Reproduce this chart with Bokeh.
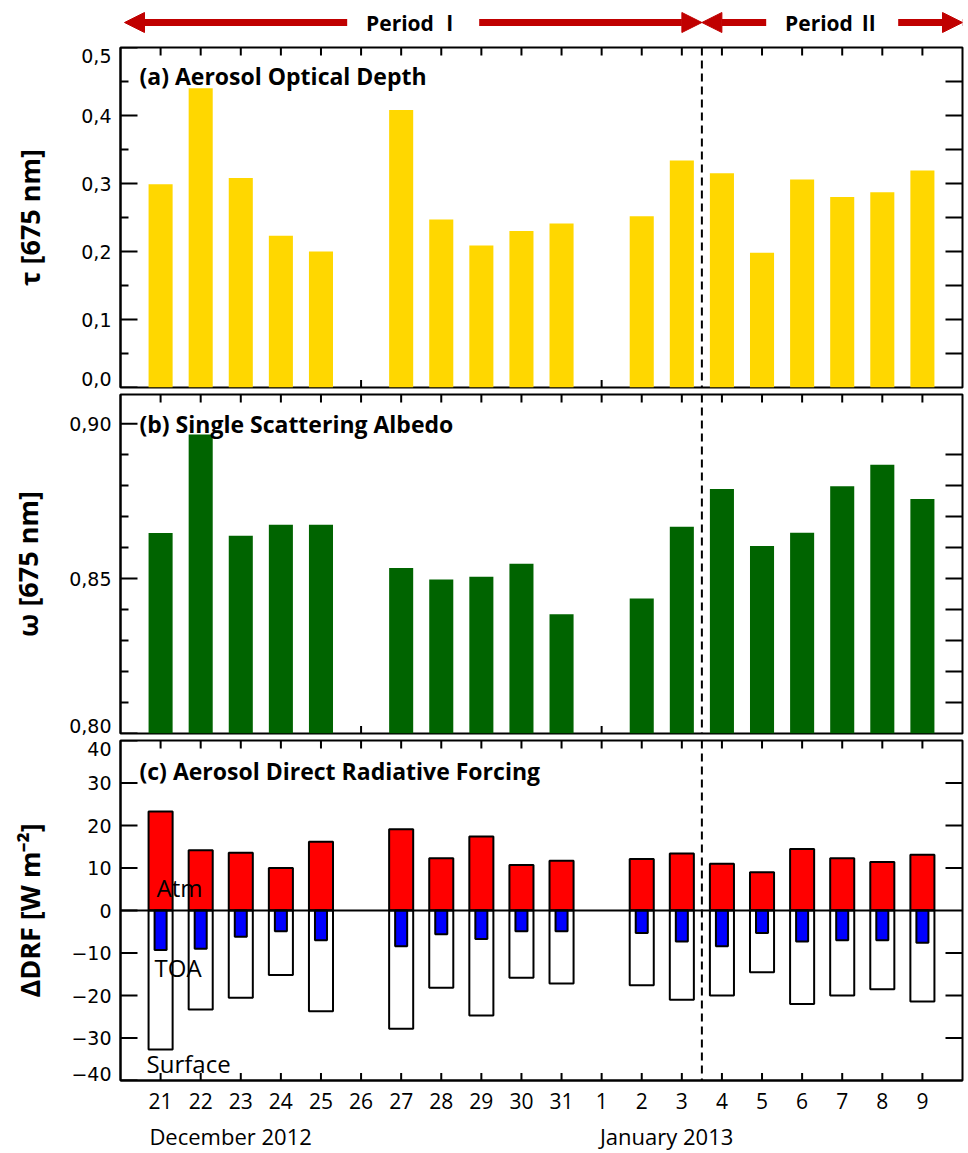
import math

from bokeh.embed import file_html
from bokeh.layouts import column
from bokeh.models import (Arrow, ColumnDataSource, CustomJSTickFormatter, FixedTicker,
                          Label, LinearAxis, NormalHead, Range1d, Span)
from bokeh.plotting import figure
from bokeh.resources import INLINE

# ---- data -------------------------------------------------------------
days = ["21", "22", "23", "24", "25", "26", "27", "28", "29", "30", "31",
        "1", "2", "3", "4", "5", "6", "7", "8", "9"]
months = ["December 2012", "January 2013"]
month_start = [0, 11]           # index of the first day of each month
periods = ["Period \u2160", "Period \u2161"]
period_split = 13.5             # between 3 and 4 January

# aerosol optical depth at 675 nm (None = no retrieval)
aod = [0.299, 0.440, 0.308, 0.223, 0.200, None, 0.408, 0.247, 0.209, 0.230,
       0.241, None, 0.252, 0.334, 0.315, 0.198, 0.306, 0.280, 0.287, 0.319]
# single scattering albedo at 675 nm
ssa = [0.8647, 0.8965, 0.8638, 0.8674, 0.8674, None, 0.8534, 0.8497, 0.8506, 0.8548,
       0.8385, None, 0.8436, 0.8667, 0.8789, 0.8605, 0.8648, 0.8798, 0.8867, 0.8757]
# direct radiative forcing, W m-2
atm = [23.3, 14.2, 13.6, 10.0, 16.2, None, 19.1, 12.3, 17.4, 10.7,
       11.7, None, 12.1, 13.4, 11.0, 9.0, 14.5, 12.3, 11.4, 13.1]
toa = [-9.3, -9.0, -6.2, -4.9, -7.0, None, -8.4, -5.6, -6.7, -4.9,
       -4.9, None, -5.3, -7.3, -8.4, -5.3, -7.3, -7.0, -7.0, -7.6]
surface = [-32.7, -23.3, -20.5, -15.2, -23.7, None, -27.8, -18.2, -24.7, -15.8,
           -17.2, None, -17.6, -21.0, -20.0, -14.5, -22.0, -20.0, -18.5, -21.4]

# ---- layout -----------------------------------------------------------
W = 968
LEFT, RIGHT = 120, 6
X0, X1 = -1, len(days)
PPU = (W - LEFT - RIGHT) / (X1 - X0)
SANS = "Open Sans"
TICK_FONT = "DejaVu Sans"
idx = list(range(len(days)))


def source(**cols):
    keep = [i for i in idx if all(c[i] is not None for c in cols.values())]
    data = {"x": keep}
    for k, c in cols.items():
        data[k] = [c[i] for i in keep]
    return ColumnDataSource(data)


def ticks(p, xs, ys, size, angle=0.0):
    # tick marks as dash markers centred on the frame edge; the frame clips
    # the outer half so only the inward part shows
    p.scatter(x=xs, y=ys, marker="dash", size=size, angle=angle,
              line_color="black", line_width=2)


def panel(height, top, bottom, frame_h, y0, y1, majors, minors, right_ticks, fmt,
          label_shift, ylabel, ylabel_standoff):
    p = figure(width=W, height=height, x_range=Range1d(X0, X1), y_range=Range1d(y0, y1),
               output_backend="svg", toolbar_location=None,
               x_axis_location=None, y_axis_location=None,
               min_border_left=LEFT, min_border_right=RIGHT,
               min_border_top=top, min_border_bottom=bottom)
    p.grid.visible = False
    p.outline_line_color = "black"
    p.outline_line_width = 2

    # tick labels; the end labels are nudged inside the axis range
    ppy = frame_h / (y1 - y0)
    lab = list(majors)
    lab[0] += label_shift[0] / ppy
    lab[-1] -= label_shift[1] / ppy
    left = LinearAxis(ticker=FixedTicker(ticks=lab, minor_ticks=[]),
                      formatter=CustomJSTickFormatter(code=fmt),
                      major_tick_in=0, major_tick_out=0, minor_tick_in=0, minor_tick_out=0,
                      axis_line_width=2,
                      major_label_text_font=TICK_FONT, major_label_text_font_size="19px",
                      major_label_text_color="black", major_label_standoff=9,
                      axis_label=ylabel, axis_label_text_font=SANS,
                      axis_label_text_font_style="bold", axis_label_text_font_size="27px",
                      axis_label_text_color="black", axis_label_standoff=ylabel_standoff)
    p.add_layout(left, "left")

    ticks(p, [X0] * len(majors), majors, 34)
    if minors:
        ticks(p, [X0] * len(minors), minors, 16)
    ticks(p, [X1] * len(right_ticks), right_ticks, 34)
    ticks(p, idx, [y1] * len(idx), 16, math.pi / 2)
    ticks(p, idx, [y0] * len(idx), 15, math.pi / 2)

    p.add_layout(Span(location=period_split, dimension="height", line_color="black",
                      line_width=2, line_dash="8 5"))
    return p


def title(p, text, fh, dy):
    p.add_layout(Label(x=19, y=fh - dy, x_units="screen", y_units="screen", text=text,
                       text_font=SANS, text_font_style="bold",
                       text_font_size="23px", text_baseline="middle", text_color="black"))


# ---- period arrows ----------------------------------------------------
arrows = figure(width=W, height=40, x_range=Range1d(X0, X1), y_range=Range1d(0, 1),
                output_backend="svg", toolbar_location=None,
                x_axis_location=None, y_axis_location=None,
                min_border_left=LEFT, min_border_right=RIGHT,
                min_border_top=0, min_border_bottom=0)
arrows.grid.visible = False
arrows.outline_line_color = None
ARROW_RED = "#C00000"
gap = 66 / PPU
bounds = [(X0 + 4 / PPU, period_split), (period_split, X1)]
for (a, b), name in zip(bounds, periods):
    c = (a + b) / 2
    for s, e in ((c - gap, a), (c + gap, b)):
        arrows.add_layout(Arrow(end=NormalHead(size=20, fill_color=ARROW_RED, line_color=ARROW_RED),
                                x_start=s, y_start=0.45, x_end=e, y_end=0.45,
                                line_color=ARROW_RED, line_width=7))
    arrows.add_layout(Label(x=c, y=0.45, text=name, text_font="'Open Sans', 'Noto Sans CJK SC'",
                            text_font_style="bold", text_font_size="21px",
                            text_align="center", text_baseline="middle", text_color="black"))

# ---- (a) AOD ----------------------------------------------------------
a_major = [0.0, 0.1, 0.2, 0.3, 0.4, 0.5]
a_minor = [0.05, 0.15, 0.25, 0.35, 0.45]
a_right = [round(0.05 * k, 2) for k in range(1, 10)]
pa = panel(350, 7, 3, 340, 0.0, 0.5, a_major, a_minor, a_right,
           "return tick.toFixed(1).replace('.', ',')", (9, 8), "\u03c4 [675 nm]", 30)
pa.vbar(x="x", top="v", bottom=0, width=0.6, source=source(v=aod),
        fill_color="#FFD700", line_color=None)
title(pa, "(a) Aerosol Optical Depth", 340, 28)

# ---- (b) SSA ----------------------------------------------------------
b_major = [0.80, 0.85, 0.90]
b_minor = [round(0.80 + 0.01 * k, 2) for k in range(1, 10) if k != 5]
b_right = [round(0.80 + 0.01 * k, 2) for k in range(1, 10)]
pb = panel(346, 4, 3, 339, 0.80, 0.9094, b_major, b_minor, b_right,
           "return tick.toFixed(2).replace('.', ',')", (8, 0), "\u03c9 [675 nm]", 20)
pb.vbar(x="x", top="v", bottom=0.80, width=0.6, source=source(v=ssa),
        fill_color="#006400", line_color=None)
title(pb, "(b) Single Scattering Albedo", 339, 29)

# ---- (c) DRF ----------------------------------------------------------
c_major = list(range(-40, 41, 10))
c_right = [v for v in range(-30, 31, 10) if v != 0]
pc = panel(417, 4, 73, 340, -40, 40, c_major, [], c_right,
           "const v = Math.round(tick / 10) * 10; return (v < 0 ? '\\u2212' : '') + Math.abs(v)",
           (7, 8), "\u0394DRF [W m\u207b\u00b2]", 20)

day_axis = LinearAxis(ticker=FixedTicker(ticks=idx, minor_ticks=[]),
                      major_tick_in=0, major_tick_out=0, minor_tick_in=0, minor_tick_out=0,
                      axis_line_width=2,
                      formatter=CustomJSTickFormatter(args=dict(days=days),
                                                      code="return days[Math.round(tick)]"),
                      major_label_text_font=SANS, major_label_text_font_size="21px",
                      major_label_text_color="black", major_label_standoff=12)
pc.add_layout(day_axis, "below")
# month names sit under their first day, centred on the text
month_pos = [m + d / PPU for m, d in zip(month_start, (70, 65))]
month_axis = LinearAxis(ticker=FixedTicker(ticks=month_pos, minor_ticks=[]),
                        major_tick_in=0, major_tick_out=0, minor_tick_in=0, minor_tick_out=0,
                        axis_line_color=None,
                        formatter=CustomJSTickFormatter(
                            args=dict(names=months, pos=month_pos),
                            code="return names[pos.indexOf(tick)]"),
                        major_label_text_font=SANS, major_label_text_font_size="22px",
                        major_label_text_color="black", major_label_standoff=9)
pc.add_layout(month_axis, "below")

src_c = source(atm=atm, toa=toa, sfc=surface)
pc.vbar(x="x", top="atm", bottom=0, width=0.6, source=src_c,
        fill_color="#FF0000", line_color="black", line_width=2)
pc.vbar(x="x", top=0, bottom="sfc", width=0.6, source=src_c,
        fill_color="white", line_color="black", line_width=2)
pc.vbar(x="x", top=0, bottom="toa", width=0.3, source=src_c,
        fill_color="#0000FF", line_color="black", line_width=2)
pc.add_layout(Span(location=0, dimension="width", line_color="black", line_width=2))
title(pc, "(c) Aerosol Direct Radiative Forcing", 340, 30)

for text, yv, dx in (("Atm", 5.4, -4), ("TOA", -13.4, -6), ("Surface", -36.0, -14)):
    pc.add_layout(Label(x=0, y=yv, x_offset=dx, text=text, text_font=SANS,
                        text_font_size="24px", text_baseline="middle", text_color="black"))

layout = column(arrows, pa, pb, pc, spacing=0)
open("out.html", "w").write(file_html(layout, INLINE))
